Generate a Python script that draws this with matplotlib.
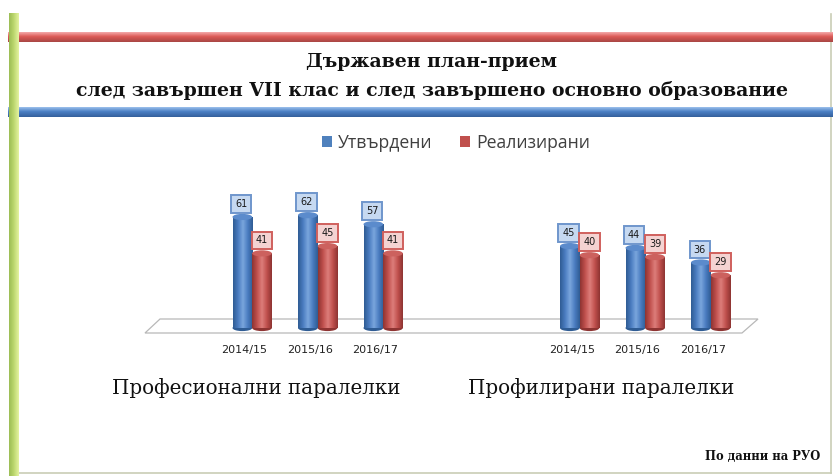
import matplotlib
matplotlib.use('Agg')
import matplotlib.pyplot as plt
import numpy as np
from matplotlib.patches import Rectangle, Ellipse, Polygon

# data
years = ['2014/15', '2015/16', '2016/17']
groups = ['Професионални паралелки', 'Профилирани паралелки']
approved_prof = [61, 62, 57]
realized_prof = [41, 45, 41]
approved_profil = [45, 44, 36]
realized_profil = [40, 39, 29]
series_names = ['Утвърдени', 'Реализирани']

W, H = 833, 476
fig = plt.figure(figsize=(W / 100, H / 100), dpi=100)

# background axes in pixel coordinates for the frame decorations
bg = fig.add_axes([0, 0, 1, 1])
bg.set_xlim(0, W)
bg.set_ylim(H, 0)
bg.axis('off')


def band(ax, x0, x1, y0, y1, c_top, c_mid, c_bot, vertical=True):
    n = 32
    t = np.linspace(0, 1, n)
    c0, c1, c2 = [np.array(matplotlib.colors.to_rgb(c)) for c in (c_top, c_mid, c_bot)]
    cols = np.array([c0 + (c1 - c0) * (s / 0.45) if s < 0.45 else c1 + (c2 - c1) * ((s - 0.45) / 0.55) for s in t])
    img = cols[:, None, :] if vertical else cols[None, :, :]
    ax.imshow(img, extent=(x0, x1, y1, y0), aspect='auto', interpolation='bilinear', zorder=2)


# frame lines
bg.plot([831, 831], [14, 473], color='#c9cdb5', lw=1.2, zorder=1)
bg.plot([12, 831], [473, 473], color='#c9cdb5', lw=1.2, zorder=1)
band(bg, 8, W, 32, 42, '#f4aaaa', '#dc5a56', '#a94744')
band(bg, 8, W, 107, 117, '#9cc0ec', '#4a7fc4', '#35609c')
band(bg, 9, 19, 13, H, '#9cbd55', '#b9d56c', '#e4f3a0', vertical=False)
bg.set_xlim(0, W)
bg.set_ylim(H, 0)

# title
fig.text(432 / W, 1 - 62 / H, 'Държавен план-прием', ha='center', va='center',
         family='DejaVu Serif', fontweight='bold', fontsize=13.6, color='#111111')
fig.text(432 / W, 1 - 90 / H, 'след завършен VII клас и след завършено основно образование',
         ha='center', va='center', family='DejaVu Serif', fontweight='bold', fontsize=13.6, color='#111111')

# chart axes
px_unit = 65.5
py_unit = 1.82
x_ref, y_ref = 243, 328
L, R, T, B = 140, 775, 160, 365
ax = fig.add_axes([L / W, 1 - B / H, (R - L) / W, (B - T) / H])
ax.set_xlim((L - x_ref) / px_unit, (R - x_ref) / px_unit)
ax.set_ylim((y_ref - B) / py_unit, (y_ref - T) / py_unit)
ax.axis('off')

pos = np.array([0, 1, 2, 5, 6, 7])
approved = approved_prof + approved_profil
realized = realized_prof + realized_profil
xlabels = years + years

# floor
fx = [(145 - x_ref) / px_unit, (742 - x_ref) / px_unit, (758 - x_ref) / px_unit, (160 - x_ref) / px_unit]
fy = [(y_ref - 333) / py_unit, (y_ref - 333) / py_unit, (y_ref - 319) / py_unit, (y_ref - 319) / py_unit]
ax.add_patch(Polygon(list(zip(fx, fy)), closed=True, facecolor='white', edgecolor='#b8b8b8', lw=0.9, zorder=1))

bw = 0.3
cap = 3.4


def cylinder(x, h, dark, mid, light, capc):
    bars = ax.bar([x], [h], width=bw, color=mid, zorder=3, linewidth=0)
    rect = bars[0]
    cmap = matplotlib.colors.LinearSegmentedColormap.from_list('c', [dark, mid, light, mid, dark])
    grad = np.linspace(0, 1, 64)[None, :]
    im = ax.imshow(grad, cmap=cmap, extent=(x - bw / 2, x + bw / 2, 0, h),
                   aspect='auto', zorder=3.1, interpolation='bilinear')
    im.set_clip_path(rect)
    ax.add_patch(Ellipse((x, 0), bw, cap, facecolor=dark, edgecolor='none', zorder=2.9))
    ax.add_patch(Ellipse((x, h), bw, cap, facecolor=capc, edgecolor='none', zorder=3.2))


for i, x in enumerate(pos):
    xb = x - 0.01
    xr = xb + bw
    cylinder(xb, approved[i], '#2f5c94', '#4a7cc0', '#7aa6dd', '#5b8bcc')
    cylinder(xr, realized[i], '#8e3432', '#c0504d', '#dd7e7b', '#cc615e')
    ax.annotate(str(approved[i]), (xb - 0.02, approved[i] + cap / 2), xytext=(0, 3.5), textcoords='offset points',
                ha='center', va='bottom', fontsize=7, color='#1a1a1a', zorder=5,
                bbox=dict(boxstyle='square,pad=0.4', facecolor='#c6d9f1', edgecolor='#6f96cc', lw=1.4))
    ax.annotate(str(realized[i]), (xr, realized[i] + cap / 2), xytext=(0, 3.5), textcoords='offset points',
                ha='center', va='bottom', fontsize=7, color='#1a1a1a', zorder=5,
                bbox=dict(boxstyle='square,pad=0.4', facecolor='#f4d3d2', edgecolor='#d0605d', lw=1.4))
    ax.text(x + 0.02, (y_ref - 350) / py_unit, xlabels[i], ha='center', va='center',
            fontsize=8, color='#222222', family='DejaVu Sans')

# legend
handles = [Rectangle((0, 0), 1, 1, facecolor='#4f81bd'), Rectangle((0, 0), 1, 1, facecolor='#c0504d')]
fig.legend(handles, series_names, loc='center', bbox_to_anchor=(456 / W, 1 - 143 / H), ncol=2,
           frameon=False, handlelength=0.55, handleheight=0.55, handletextpad=0.35,
           columnspacing=1.6, labelcolor='#404040', prop={'family': 'Open Sans', 'size': 12.7})

# group labels
fig.text(256 / W, 1 - 388 / H, groups[0], ha='center', va='center', family='DejaVu Serif',
         fontsize=14.3, color='#111111')
fig.text(601 / W, 1 - 388 / H, groups[1], ha='center', va='center', family='DejaVu Serif',
         fontsize=14.3, color='#111111')

fig.text(820 / W, 1 - 456 / H, 'По данни на РУО', ha='right', va='center', family='DejaVu Serif',
         fontweight='bold', fontsize=8.3, color='#111111')

fig.savefig('out.png', dpi=100, facecolor='white')
